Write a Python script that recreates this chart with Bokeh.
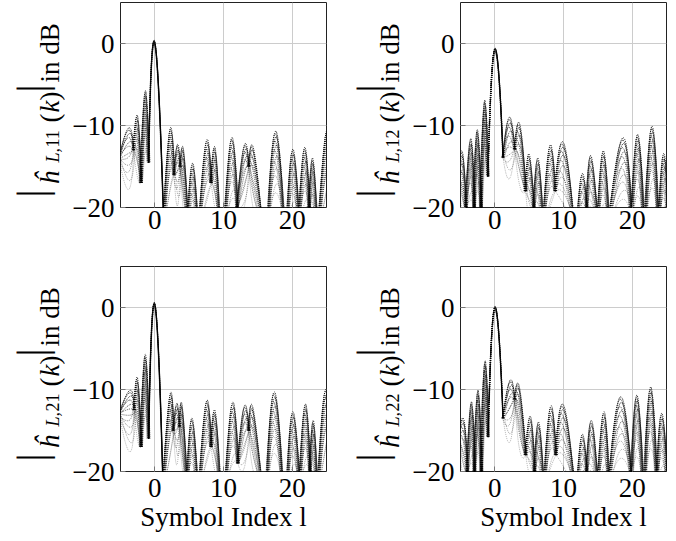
import math
from bokeh.plotting import figure
from bokeh.layouts import row, column
from bokeh.models import FixedTicker, Range1d
from bokeh.core.properties import value
from bokeh.embed import file_html
from bokeh.resources import INLINE

# ---------------- data ----------------
x_ticks = [0, 10, 20]
y_ticks = [-20, -10, 0]
y_tick_text = {-20: "\u221220", -10: "\u221210", 0: "0"}
channels = ["11", "12", "21", "22"]
x_label_text = "Symbol Index l"

# each lobe: left foot (xl, yl), apex (xp, yp), right foot (xr, yr)   [dB]
h11_xl = [-5.2, -3.1, -2.0, -0.9, 1.3, 2.8, 3.7, 4.8, 6.5, 8.2, 10.2, 12.0, 13.7, 16.5, 19.3, 21.0, 22.5, 23.9]
h11_yl = [-14, -13, -17, -14.5, -22, -16, -15, -22, -22, -17, -22, -20, -15, -22, -22, -22, -20, -22]
h11_xp = [-3.8, -2.5, -1.4, 0.0, 2.2, 3.3, 4.2, 5.5, 7.5, 8.8, 11.2, 13.0, 14.4, 17.6, 20.1, 21.8, 23.0, 24.9]
h11_yp = [-10.3, -8.9, -5.8, 0.2, -10.5, -12.3, -13.1, -14.6, -11.9, -12.8, -11.5, -12.5, -12.9, -10.7, -12.9, -12.7, -14.0, -11.0]
h11_xr = [-3.1, -2.0, -0.9, 1.3, 2.8, 3.7, 4.8, 6.2, 8.2, 9.4, 12.0, 13.7, 15.6, 18.8, 21.0, 22.5, 23.6, 25.5]
h11_yr = [-13, -17, -14.5, -22, -16, -15, -22, -22, -17, -22, -20, -15, -22, -22, -22, -20, -22, -15]

h12_xl = [-5.3, -4.2, -3.0, -2.0, -1.0, 1.2, 2.9, 4.5, 5.7, 7.1, 8.8, 12.0, 13.4, 15.0, 16.6, 19.9, 21.9, 23.9]
h12_yl = [-16, -20, -20, -20, -16.2, -13.9, -12.9, -18, -20, -22, -18, -22, -20, -22, -22, -22, -22, -22]
h12_xp = [-4.7, -3.5, -2.55, -1.5, 0.0, 2.1, 3.65, 5.0, 6.3, 8.0, 10.0, 12.7, 14.0, 15.8, 18.7, 20.8, 22.9, 24.6]
h12_yp = [-13.3, -11.6, -10.5, -7.0, -0.6, -9.0, -9.9, -13.5, -14.0, -12.5, -12.1, -15.9, -13.7, -13.1, -11.5, -11.1, -10.1, -13.4]
h12_xr = [-4.2, -3.0, -2.0, -1.0, 1.2, 2.9, 4.5, 5.7, 7.0, 8.8, 11.5, 13.4, 15.0, 16.6, 19.9, 21.7, 23.8, 25.3]
h12_yr = [-20, -20, -20, -16.2, -13.9, -12.9, -18, -20, -22, -18, -22, -20, -22, -22, -22, -22, -22, -22]

h21_xl = [-5.2, -3.0, -2.0, -0.9, 1.2, 2.7, 3.6, 4.7, 6.5, 8.2, 10.3, 12.1, 13.7, 16.3, 19.3, 21.1, 22.6, 23.8]
h21_yl = [-13, -12.5, -17, -16, -22, -15, -14.5, -22, -22, -17, -22, -19, -15, -22, -22, -22, -20, -22]
h21_xp = [-3.6, -2.5, -1.4, 0.0, 2.2, 3.2, 4.0, 5.4, 7.5, 8.8, 11.3, 13.0, 14.3, 17.4, 20.1, 21.9, 23.1, 24.7]
h21_yp = [-10.1, -8.7, -5.7, 0.5, -10.7, -11.7, -12.1, -13.5, -11.5, -12.7, -11.6, -12.1, -12.3, -10.3, -12.7, -11.8, -13.8, -10.5]
h21_xr = [-3.0, -2.0, -0.9, 1.2, 2.7, 3.6, 4.7, 6.2, 8.2, 9.5, 12.1, 13.7, 15.6, 18.6, 21.1, 22.6, 23.6, 25.5]
h21_yr = [-12.5, -17, -16, -22, -15, -14.5, -22, -22, -17, -22, -19, -15, -22, -22, -22, -20, -22, -14]

h22_xl = [-5.3, -4.0, -2.95, -1.95, -0.97, 1.2, 2.9, 4.5, 5.8, 7.2, 8.9, 12.0, 13.4, 15.0, 16.6, 19.9, 21.8, 23.6]
h22_yl = [-16, -20, -20, -20, -15.8, -13.5, -11.2, -18, -20, -22, -18, -22, -20, -22, -22, -21, -22, -22]
h22_xp = [-4.5, -3.4, -2.45, -1.45, 0.0, 2.2, 3.6, 5.2, 6.4, 8.1, 10.0, 12.7, 14.1, 15.9, 18.3, 20.7, 22.7, 24.3]
h22_yp = [-13.7, -11.5, -10.1, -6.6, 0.1, -8.9, -9.8, -13.3, -14.0, -12.1, -11.9, -15.5, -13.8, -12.7, -10.9, -10.7, -9.7, -12.9]
h22_xr = [-4.0, -2.95, -1.95, -0.97, 1.2, 2.9, 4.5, 5.8, 7.1, 8.9, 11.6, 13.4, 15.0, 16.6, 19.9, 21.6, 23.6, 25.2]
h22_yr = [-20, -20, -20, -15.8, -13.5, -11.2, -18, -20, -22, -18, -22, -20, -22, -22, -21, -22, -22, -22]

LOBES = {
    "11": (h11_xl, h11_yl, h11_xp, h11_yp, h11_xr, h11_yr),
    "12": (h12_xl, h12_yl, h12_xp, h12_yp, h12_xr, h12_yr),
    "21": (h21_xl, h21_yl, h21_xp, h21_yp, h21_xr, h21_yr),
    "22": (h22_xl, h22_yl, h22_xp, h22_yp, h22_xr, h22_yr),
}

# ---------------- styling / layout ----------------
SERIF = "Liberation Serif"
FS = 27          # tick labels, x label
FSY = 27         # y label main text
FSS = 18         # y label subscript
FSB = 42         # big absolute-value bars
X0, X1 = -5, 25
Y0, Y1 = -20, 5
FRAME_W = 206
FRAME_H = 205
TOP_PAD = 2
# rendering copies of every lobe: (dx, apex drop in dB, alpha)
COPIES = [(0.0, 0.0, 1.0), (-0.06, 0.3, 0.95), (0.06, 0.7, 0.9), (-0.12, 1.2, 0.8),
          (0.12, 1.7, 0.75), (-0.18, 2.3, 0.65), (0.18, 3.0, 0.6), (-0.24, 3.7, 0.5),
          (0.1, 4.5, 0.45), (-0.08, 5.4, 0.4), (0.2, 6.4, 0.35), (0.0, 7.5, 0.3)]

LABEL_W = {True: 65, False: 75}        # width of the y-label strip (left / right column)
PANEL_BL = 55
PANEL_BR = {True: 4, False: 8}
ROW_BOTTOM = {True: 59, False: 70}


def add_lobes(p, ch):
    xl, yl, xp, yp, xr, yr = LOBES[ch]
    for dx, drop, alpha in COPIES:
        x0, y0, x1, y1, cx, cy = [], [], [], [], [], []
        for a, b, c, d, e, f in zip(xl, yl, xp, yp, xr, yr):
            main = d > -4
            s_y = 0.08 if main else 1.0
            s_x = 0.2 if main else 1.0
            ddx = dx * s_x
            apex = d - drop * s_y
            x0.append(a + ddx); y0.append(b)
            x1.append(e + ddx); y1.append(f)
            cx.append(2 * (c + ddx) - 0.5 * (a + e + 2 * ddx))
            cy.append(2 * apex - 0.5 * (b + f))
        p.quadratic(x0=x0, y0=y0, x1=x1, y1=y1, cx=cx, cy=cy,
                    line_color="black", line_alpha=alpha, line_width=1.0,
                    line_dash="1 1")


def put(s, x, y, text, size, style="normal", align="left",
        baseline="alphabetic", angle=0.0):
    s.text(x=[x], y=[y], text=[text], angle=angle,
           text_font=value(SERIF), text_font_size=value(f"{size}px"),
           text_font_style=value(style), text_align=value(align),
           text_baseline=value(baseline), text_color="black")


def ylabel_strip(ch, left, top):
    """A text-only strip left of a panel; its frame lines up with the panel frame."""
    W = LABEL_W[left]
    tp = TOP_PAD if top else 0
    H = tp + FRAME_H + ROW_BOTTOM[top]
    s = figure(width=W, height=H, x_range=Range1d(0, W), y_range=Range1d(0, FRAME_H),
               output_backend="svg", toolbar_location=None,
               min_border_left=0, min_border_right=0,
               min_border_top=tp, min_border_bottom=ROW_BOTTOM[top],
               x_axis_type=None, y_axis_type=None)
    s.outline_line_color = None
    s.xgrid.visible = False
    s.ygrid.visible = False
    bx = 31 if left else 41          # centre of the big bars
    b = 49 if left else 59           # text baseline
    r = math.pi / 2

    def Y(v):                        # v: pixels below the frame top
        return FRAME_H - v

    put(s, bx, Y(191), "|", FSB, align="center", baseline="middle", angle=r)
    put(s, b, Y(182), "\u0125", FSY, style="italic", angle=r)
    put(s, b + 3, Y(160), "L,", FSS, style="italic", angle=r)
    put(s, b + 3, Y(145), ch, FSS, angle=r)
    put(s, b, Y(120), "(", FSY, angle=r)
    put(s, b, Y(110), "k", FSY, style="italic", angle=r)
    put(s, b, Y(98), ")", FSY, angle=r)
    put(s, bx, Y(86), "|", FSB, align="center", baseline="middle", angle=r)
    put(s, b, Y(80), "in dB", FSY, angle=r)
    return s


def make_panel(ch, top, left):
    tp = TOP_PAD if top else 0
    H = tp + FRAME_H + ROW_BOTTOM[top]
    W = PANEL_BL + FRAME_W + PANEL_BR[left]
    p = figure(width=W, height=H,
               min_border_left=PANEL_BL, min_border_right=PANEL_BR[left],
               min_border_top=tp, min_border_bottom=ROW_BOTTOM[top],
               x_range=Range1d(X0, X1), y_range=Range1d(Y0, Y1),
               output_backend="svg", toolbar_location=None)
    p.outline_line_color = "#222222"
    p.outline_line_width = 1
    for g in (p.xgrid, p.ygrid):
        g.grid_line_color = "#cccccc"
        g.grid_line_width = 1
    p.xaxis.ticker = FixedTicker(ticks=x_ticks)
    p.yaxis.ticker = FixedTicker(ticks=y_ticks)
    p.yaxis.major_label_overrides = y_tick_text
    for ax in (p.xaxis, p.yaxis):
        ax.axis_line_color = None
        ax.major_tick_in = 5
        ax.major_tick_out = 0
        ax.major_tick_line_color = "#777777"
        ax.minor_tick_line_color = None
        ax.major_label_text_font = SERIF
        ax.major_label_text_font_size = f"{FS}px"
        ax.major_label_text_color = "black"
    p.yaxis.major_label_standoff = 6
    p.xaxis.major_label_standoff = 3 if top else 7
    if not top:
        p.xaxis.axis_label = x_label_text
        p.xaxis.axis_label_text_font = SERIF
        p.xaxis.axis_label_text_font_size = f"{FS}px"
        p.xaxis.axis_label_text_font_style = "normal"
        p.xaxis.axis_label_text_color = "black"
        p.xaxis.axis_label_standoff = 2
    add_lobes(p, ch)
    return p


rows = []
for top, pair in ((True, ("11", "12")), (False, ("21", "22"))):
    kids = []
    for left, ch in zip((True, False), pair):
        kids.append(ylabel_strip(ch, left, top))
        kids.append(make_panel(ch, top, left))
    rows.append(row(*kids))

layout = column(*rows)

open("out.html", "w").write(file_html(layout, INLINE))
